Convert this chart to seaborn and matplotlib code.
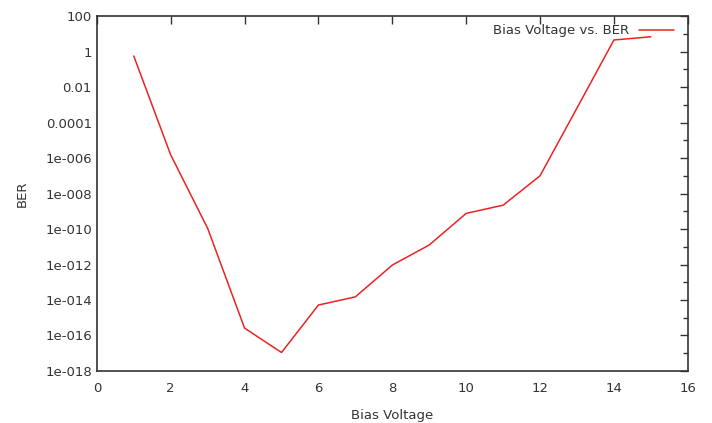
import matplotlib
matplotlib.use("Agg")
import matplotlib.pyplot as plt
import matplotlib.ticker as mticker
import numpy as np
import pandas as pd
import seaborn as sns

bias_voltage = [1, 2, 3, 4, 5, 6, 7, 8, 9, 10, 11, 12, 13, 14, 15]
ber = [0.56, 1.5e-6, 1.1e-10, 2.6e-16, 1.1e-17, 5.2e-15, 1.5e-14, 9.3e-13,
       1.26e-11, 7.6e-10, 2.2e-9, 1.0e-7, 6.6e-4, 4.5, 6.8]
y_tick_labels = ["1e-018", "1e-016", "1e-014", "1e-012", "1e-010", "1e-008",
                 "1e-006", "0.0001", "0.01", "1", "100"]

sns.set_style("white")
plt.rcParams["font.family"] = ["DejaVu Sans"]

df = pd.DataFrame({"Bias Voltage": bias_voltage, "BER": ber})

fig = plt.figure(figsize=(7.12, 4.23), dpi=100)
ax = fig.add_axes([0.136, 0.123, 0.830, 0.839])
sns.lineplot(data=df, x="Bias Voltage", y="BER", ax=ax, color="#ee2222",
             linewidth=1.1, label="Bias Voltage vs. BER")

ax.set_yscale("log")
ax.set_xlim(0, 16)
ax.set_ylim(1e-18, 100)
ax.xaxis.set_major_locator(mticker.MultipleLocator(2))
major = 10.0 ** np.arange(-18, 3, 2)
minor = 10.0 ** np.arange(-17, 2, 2)
ax.yaxis.set_major_locator(mticker.FixedLocator(major))
ax.yaxis.set_minor_locator(mticker.FixedLocator(minor))
ax.yaxis.set_major_formatter(mticker.FixedFormatter(y_tick_labels))
ax.yaxis.set_minor_formatter(mticker.NullFormatter())

ax.tick_params(which="both", direction="in", top=True, right=True,
               labelsize=9.5, colors="#333333", width=1)
ax.tick_params(which="major", length=6)
ax.tick_params(which="minor", length=3.5)
ax.tick_params(axis="x", pad=8)
for side in ax.spines.values():
    side.set_color("#333333")
    side.set_linewidth(1.2)

ax.set_xlabel("Bias Voltage", fontsize=9.5, color="#333333", labelpad=10)
ax.set_ylabel("BER", fontsize=9.5, color="#333333", labelpad=12)

ax.legend(loc="upper right", bbox_to_anchor=(0.976, 0.977), frameon=False,
          markerfirst=False, fontsize=9.5, handlelength=2.6, borderaxespad=0,
          borderpad=0, labelcolor="#333333")

fig.savefig("out.png", dpi=100)
plt.close(fig)
